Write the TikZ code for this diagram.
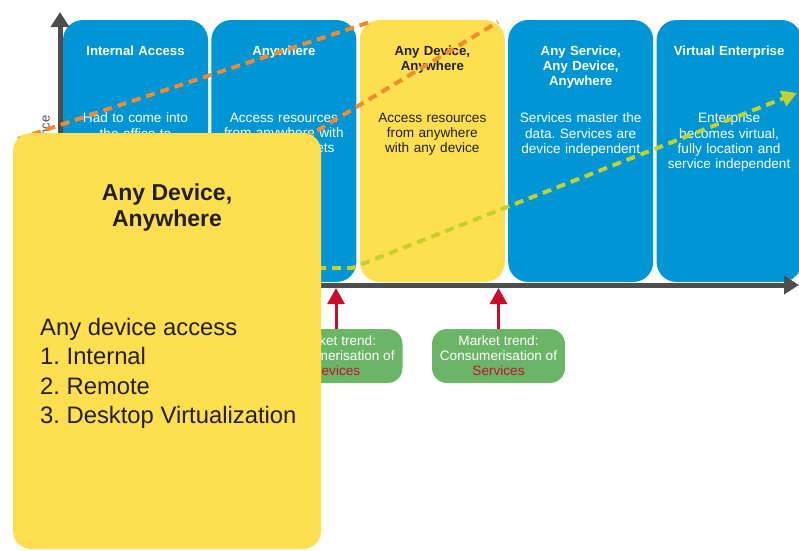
\documentclass[tikz,border=0pt]{standalone}
\usepackage{fontspec}
\setmainfont{Liberation Sans}
\usetikzlibrary{positioning, arrows.meta}
\usepackage{xcolor}
\frenchspacing

\definecolor{stageblue}{HTML}{0096D6}
\definecolor{stageyellow}{HTML}{FDDF4F}
\definecolor{trendgreen}{HTML}{6AB566}
\definecolor{trendred}{HTML}{C8102E}
\definecolor{axisgray}{HTML}{4D4D4D}
\definecolor{pathorange}{HTML}{F58A2A}
\definecolor{pathlime}{HTML}{C2D22A}
\definecolor{inktext}{HTML}{231F20}

\begin{document}
\begin{tikzpicture}[x=1pt, y=-1pt, node distance=3pt,
        stage/.style={rectangle, rounded corners=20pt, fill=stageblue,
            minimum width=145pt, minimum height=262pt, inner sep=0pt},
        stagetitle/.style={text width=144pt, align=center, inner sep=0pt, text=white,
            font=\bfseries\fontsize{13.2}{15}\selectfont},
        stagetext/.style={text width=144pt, align=center, inner sep=0pt, text=white,
            font=\fontsize{13.6}{15.3}\selectfont},
        trend/.style={rectangle, rounded corners=15pt, fill=trendgreen, text=white,
            minimum width=133pt, minimum height=54pt, align=center, inner sep=0pt,
            font=\fontsize{13.6}{15}\selectfont},
        pathline/.style={dashed, dash pattern=on 9pt off 6pt, line width=4pt},
        axis/.style={axisgray, line width=5pt, {Triangle[length=15pt,width=18pt]}-{Triangle[length=15pt,width=18pt]}},
        trendarrow/.style={trendred, line width=3pt, -{Triangle[length=16pt,width=17pt]}}]

    \useasboundingbox (0,0) rectangle (799,550);

    % stages along the time axis
    \node[stage] (internal) at (135.5,151) {};
    \node[stage, right=of internal] (anywhere) {};
    \node[stage, fill=stageyellow, right=of anywhere] (anydevice) {};
    \node[stage, right=of anydevice] (anyservice) {};
    \node[stage, right=of anyservice] (virtual) {};

    \node[stagetitle, below=26pt of internal.north] (internalT) {Internal Access};
    \node[stagetitle, below=26pt of anywhere.north] (anywhereT) {Anywhere};
    \node[stagetitle, text=inktext, below=26pt of anydevice.north] (anydeviceT) {Any Device,\\Anywhere};
    \node[stagetitle, below=26pt of anyservice.north] (anyserviceT) {Any Service,\\Any Device,\\Anywhere};
    \node[stagetitle, below=26pt of virtual.north] (virtualT) {Virtual Enterprise};

    \node[stagetext, below=93pt of internal.north] (internalB) {Had to come into\\the office to\\access resources};
    \node[stagetext, below=93pt of anywhere.north] (anywhereB) {Access resources\\from anywhere with\\corporate assets};
    \node[stagetext, text=inktext, below=93pt of anydevice.north] (anydeviceB) {Access resources\\from anywhere\\with any device};
    \node[stagetext, below=93pt of anyservice.north] (anyserviceB) {Services master the\\data. Services are\\device independent};
    \node[stagetext, below=93pt of virtual.north] (virtualB) {Enterprise\\becomes virtual,\\fully location and\\service independent};

    % axes
    \coordinate (origin) at (60,285);
    \coordinate (ytop) at (60,12);
    \coordinate (xend) at (799,285);
    \draw[axis] (ytop) -- (origin) -- (xend);
    \node[rotate=90, anchor=east, text=axisgray, font=\fontsize{13}{15}\selectfont] (ylabel) at (45,112) {Relevance};

    % trend lines
    \coordinate (orangeA) at (18,139);
    \coordinate (orangeB) at (370,22);
    \coordinate (orangeC) at (498,22);
    \coordinate (limeA) at (62,268);
    \coordinate (limeB) at (352,268);
    \coordinate (limeC) at (797,93);
    \draw[pathline, pathorange] (orangeA) -- (orangeB);
    \draw[pathline, pathorange] (origin) -- (orangeC);
    \draw[pathline, pathlime, -{Triangle[length=15pt,width=16pt]}] (limeA) -- (limeB) -- (limeC);

    % market trends
    \node[trend] (trendDevices) at (336,356) {Market trend:\\Consumerisation of\\\textcolor{trendred}{Devices}};
    \node[trend] (trendServices) at (498.5,356) {Market trend:\\Consumerisation of\\\textcolor{trendred}{Services}};
    \draw[trendarrow] (trendDevices.north) -- (trendDevices.north |- {(0,288)});
    \draw[trendarrow] (trendServices.north) -- (trendServices.north |- {(0,288)});

    % detail of the highlighted stage
    \node[stage, fill=stageyellow, rounded corners=18pt, minimum width=308pt, minimum height=416pt] (detail) at (167,341) {};
    \node[anchor=north, align=center, inner sep=0pt, text=inktext,
        font=\bfseries\fontsize{23}{26}\selectfont] (detailT) at (167,184) {Any Device,\\Anywhere};
    \node[anchor=north west, align=left, inner sep=0pt, text=inktext,
        font=\fontsize{23.8}{29.4}\selectfont] (detailB) at (40,318)
        {Any device access\\1. Internal\\2. Remote\\3. Desktop Virtualization};

\end{tikzpicture}
\end{document}
